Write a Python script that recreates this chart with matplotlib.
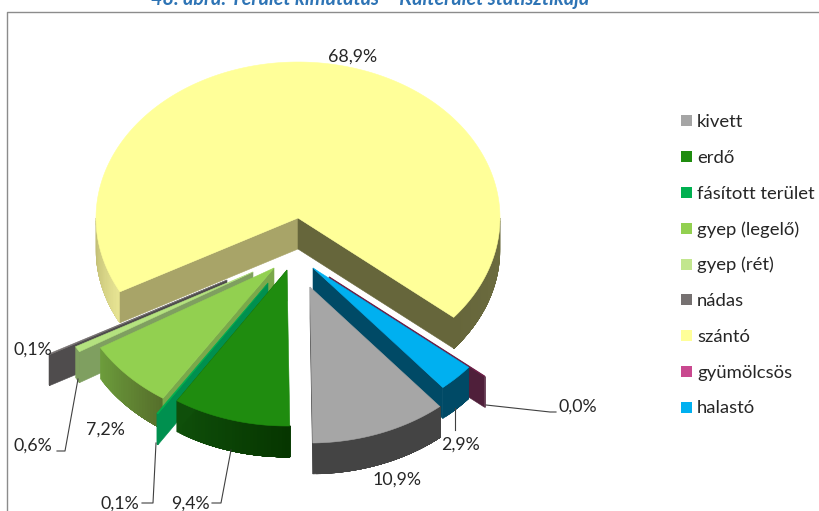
import math
import matplotlib
matplotlib.use('Agg')
import matplotlib.pyplot as plt
from matplotlib.colors import to_rgb
from matplotlib.patches import Polygon, Rectangle

plt.rcParams['font.family'] = ['Lato', 'DejaVu Sans']

title = '48. ábra: Terület kimutatás – Külterület statisztikája'
names = ['kivett', 'erdő', 'fásított terület', 'gyep (legelő)', 'gyep (rét)',
         'nádas', 'szántó', 'gyümölcsös', 'halastó']
values = [10.9, 9.4, 0.1, 7.2, 0.6, 0.1, 68.9, 0.0, 2.9]
legend_colors = ['#a5a5a5', '#1f8c0f', '#00b050', '#92d050', '#c2e68e',
                 '#767171', '#ffff99', '#c9488f', '#00b0f0']

# look of each slice, in the same order as names
top_colors = ['#a6a6a6', '#1f8c0f', '#00b050', '#92d050', '#b4e27f',
              '#767171', '#ffff99', '#6e1f48', '#00b0f0']
rim_colors = [('#444444', '#444444'), ('#0f4f0a', '#063600'), ('#00904f', '#00904f'),
              ('#6d9e3c', '#566f2b'), ('#7f9f60', '#7f9f60'), ('#4f4c4d', '#4f4c4d'),
              ('#66663b', '#66663b'), ('#4f1f3a', '#4f1f3a'), ('#004a66', '#004a66')]
wall_colors = ['#444444', '#0f4f0a', '#00904f', '#7aa84b', '#7f9f60',
               '#4f4c4d', '#a8a468', '#4f1f3a', '#004a66']
apex = [(310, 287), (287, 270), (268, 283), (274, 268), (253, 272),
        (227, 280), (298, 218), (329, 277), (313, 268)]
label_pos = [(397, 480), (190, 504), (120, 504), (105, 430), (33, 446),
             (33, 350), (353, 57), (578, 407), (460, 445)]
leaders = [None, [(231, 450), (221, 503), (212, 503)], [(156, 443), (153, 503), (142, 503)],
           None, [(78, 379), (65, 451), (57, 451)], None, None,
           [(486, 405), (550, 412), (556, 412)], [(455, 408), (455, 430)]]

START = 140.0
RX, RY = 202, 156
DEPTH = 31


def point(c, ang):
    a = math.radians(ang)
    return (c[0] + RX * math.sin(a), c[1] - RY * math.cos(a))


def down(p):
    return (p[0], p[1] + DEPTH)


def blend(c1, c2, t):
    a, b = to_rgb(c1), to_rgb(c2)
    return tuple(a[i] + (b[i] - a[i]) * t for i in range(3))


def quad(ax, pts, col, z):
    ax.add_patch(Polygon(pts, closed=True, fc=col, ec=col, lw=0.4, zorder=z))


def rim(ax, c, a1, a2, col1, col2, z):
    # each step runs on to the end of the arc, the next one paints over it, so no seams
    n = max(2, int(abs(a2 - a1)))
    for k in range(n):
        t1 = a1 + (a2 - a1) * k / n
        pts = [point(c, t1 + (a2 - t1) * j / 12) for j in range(13)]
        quad(ax, pts + [down(p) for p in reversed(pts)], blend(col1, col2, (k + 0.5) / n), z)


fig = plt.figure(figsize=(8.19, 5.11), dpi=100)
ax = fig.add_axes([0, 0, 1, 1])
ax.set_xlim(0, 819)
ax.set_ylim(511, 0)
ax.axis('off')

ax.plot([7, 7, 819], [511, 12, 12], color='#8c8c8c', lw=1.0, zorder=1)
ax.text(370, -1, title, color='#2e74b5', fontsize=14.2, fontweight='bold', fontstyle='italic',
        ha='center', va='center', zorder=1)

# angles of each slice, clockwise from the top
total = sum(values)
angles = []
a = START
for v in values:
    angles.append((a, a + v / total * 360))
    a += v / total * 360

# painter's order, back to front
order = [6, 7, 8, 0, 5, 4, 3, 2, 1]
for z, i in enumerate(order):
    z = z * 3 + 2
    c = apex[i]
    a1, a2 = angles[i]
    if names[i] == 'szántó':
        rim(ax, c, 90, a2 - 360, '#6d6d40', '#66663b', z)
        rim(ax, c, 270, a1, '#bdb971', '#e8e594', z)
        p1, p2 = point(c, a1), point(c, a2)
        quad(ax, [c, p1, down(p1), down(c)], wall_colors[i], z + 1)
        quad(ax, [c, p2, down(p2), down(c)], rim_colors[i][0], z + 1)
    else:
        rim(ax, c, a2, a1, rim_colors[i][0], rim_colors[i][1], z)
        # only the wall turned towards the viewer shows
        edge = a2 % 360 if (a1 % 360) < 180 else a1
        p = point(c, edge)
        quad(ax, [c, p, down(p), down(c)], wall_colors[i], z + 1)
    n = max(2, int(a2 - a1) + 1)
    arc = [point(c, a1 + (a2 - a1) * k / n) for k in range(n + 1)]
    lw = 1.0 if values[i] < 0.05 else 0.4
    ax.add_patch(Polygon([c] + arc, closed=True, fc=top_colors[i], ec=top_colors[i],
                         lw=lw, zorder=z + 2))

for i, v in enumerate(values):
    ax.text(label_pos[i][0], label_pos[i][1], f'{v:.1f}%'.replace('.', ','), color='#262626',
            fontsize=12.8, ha='center', va='center', zorder=40)
    if leaders[i]:
        ax.plot([p[0] for p in leaders[i]], [p[1] for p in leaders[i]], color='#404040',
                lw=0.8, zorder=39)

# legend
for i, name in enumerate(names):
    y = 121 + i * 35.8
    ax.add_patch(Rectangle((681, y - 5.5), 11, 11, fc=legend_colors[i], ec='none', zorder=40))
    ax.text(697, y + 1, name, color='#262626', fontsize=13.3, ha='left', va='center', zorder=40)

fig.savefig('out.png', dpi=100)
